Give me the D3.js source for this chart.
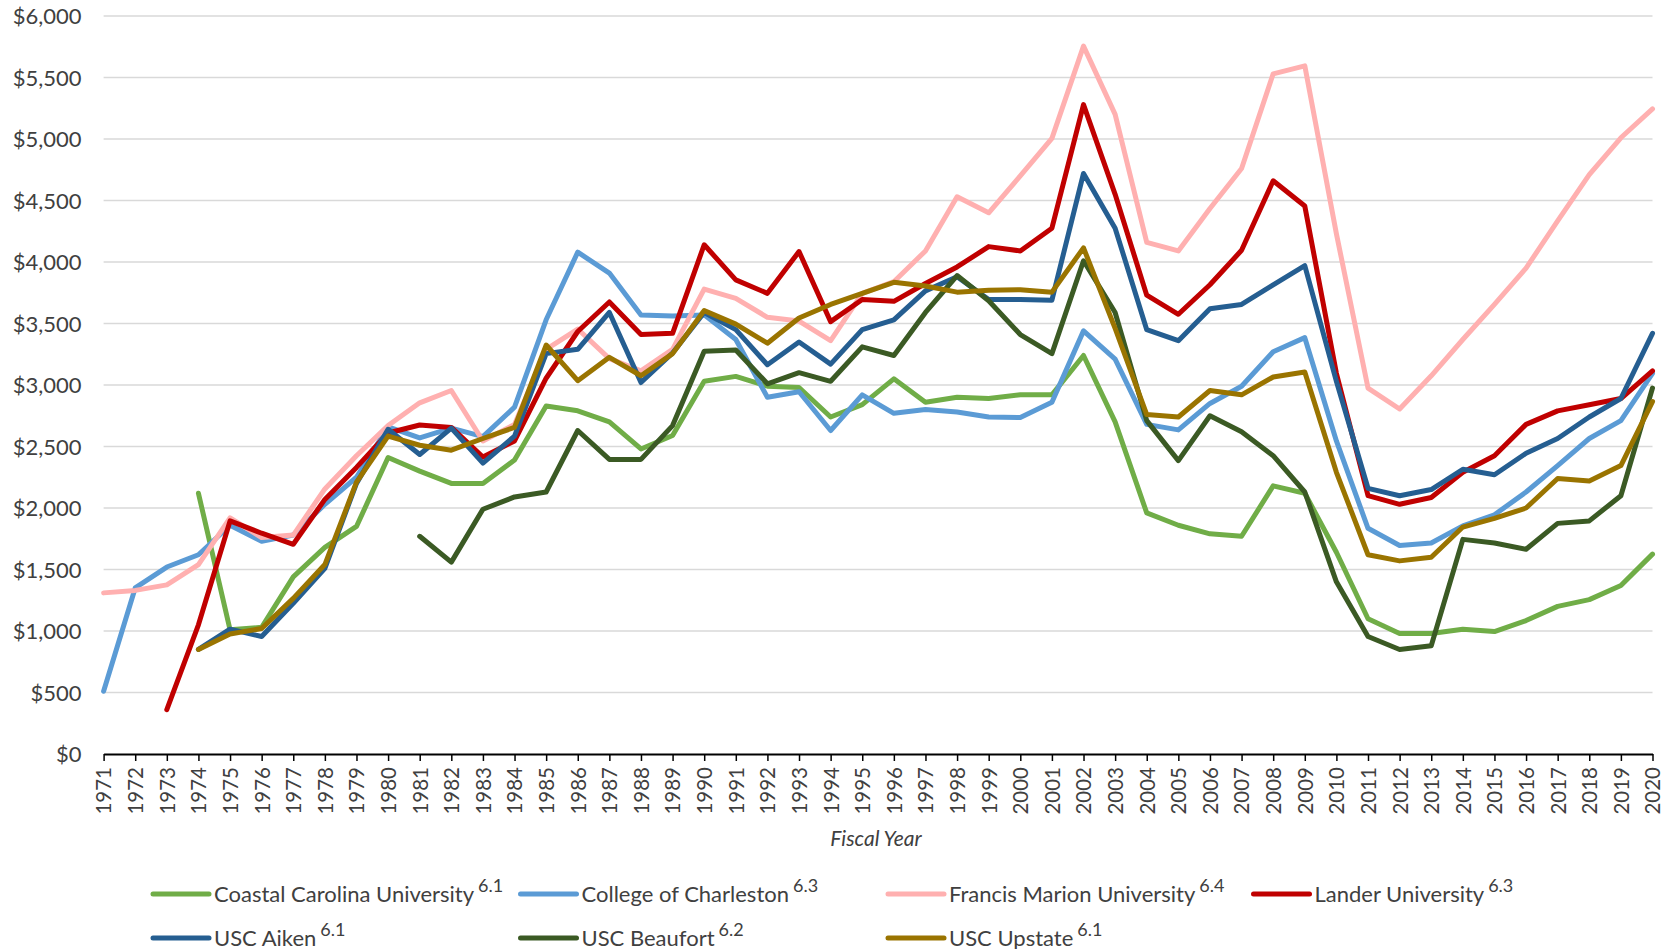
<!DOCTYPE html>
<html>
<head>
<meta charset="utf-8">
<script src="https://cdn.jsdelivr.net/npm/d3@7"></script>
<style>
  html, body { margin: 0; padding: 0; background: #fff; overflow: hidden; }
  svg { display: block; }
  .tick text { font-family: Lato, "Open Sans", sans-serif; fill: #404040; }
</style>
</head>
<body>
<div id="chart"></div>
<script>
const years = d3.range(1971, 2021);
const yTicks = [0, 500, 1000, 1500, 2000, 2500, 3000, 3500, 4000, 4500, 5000, 5500, 6000];

const schools = ["Coastal Carolina University", "College of Charleston", "Francis Marion University",
  "Lander University", "USC Aiken", "USC Beaufort", "USC Upstate"];
const footnotes = ["6.1", "6.3", "6.4", "6.3", "6.1", "6.2", "6.1"];
const colors = ["#70ad47", "#5b9bd5", "#ffb0b0", "#c00000", "#255e91", "#3b5a24", "#9a7400"];

const coastal = [null, null, null, 2120, 1010, 1030, 1440, 1680, 1850, 2410,
  2300, 2200, 2200, 2390, 2830, 2790, 2700, 2480, 2590, 3030,
  3070, 2990, 2980, 2740, 2840, 3050, 2860, 2900, 2890, 2920,
  2920, 3240, 2700, 1960, 1860, 1790, 1770, 2180, 2120, 1640,
  1100, 980, 980, 1015, 995, 1085, 1200, 1255, 1370, 1625];
const charleston = [510, 1350, 1520, 1620, 1860, 1730, 1780, 2030, 2250, 2660,
  2570, 2650, 2580, 2820, 3530, 4080, 3910, 3570, 3560, 3570,
  3370, 2900, 2945, 2630, 2920, 2770, 2800, 2780, 2740, 2735,
  2860, 3440, 3210, 2680, 2635, 2850, 2990, 3270, 3385, 2545,
  1835, 1695, 1715, 1855, 1945, 2130, 2345, 2565, 2710, 3095];
const francisMarion = [1310, 1330, 1375, 1540, 1920, 1760, 1780, 2155, 2425, 2670,
  2855, 2955, 2545, 2680, 3290, 3455, 3215, 3115, 3290, 3780,
  3705, 3550, 3520, 3360, 3745, 3840, 4090, 4530, 4400, 4700,
  5005, 5755, 5200, 4160, 4090, 4435, 4760, 5530, 5595, 4230,
  2975, 2805, 3075, 3370, 3655, 3950, 4335, 4710, 5010, 5245];
const lander = [null, null, 360, 1050, 1895, 1795, 1705, 2070, 2330, 2610,
  2675, 2655, 2415, 2545, 3055, 3435, 3675, 3410, 3420, 4140,
  3855, 3745, 4085, 3515, 3695, 3680, 3825, 3960, 4125, 4090,
  4275, 5280, 4550, 3730, 3575, 3815, 4095, 4660, 4455, 3095,
  2100, 2030, 2085, 2290, 2425, 2680, 2790, 2840, 2890, 3115];
const aiken = [null, null, null, 850, 1015, 955, 1225, 1510, 2200, 2640,
  2435, 2650, 2365, 2585, 3255, 3290, 3590, 3020, 3260, 3590,
  3450, 3165, 3350, 3170, 3450, 3530, 3765, 3880, 3695, 3695,
  3690, 4720, 4275, 3450, 3360, 3620, 3655, 3815, 3970, 3030,
  2160, 2100, 2150, 2315, 2270, 2445, 2565, 2740, 2890, 3420];
const beaufort = [null, null, null, null, null, null, null, null, null, null,
  1770, 1560, 1990, 2090, 2130, 2630, 2395, 2395, 2670, 3275,
  3285, 3010, 3100, 3030, 3310, 3240, 3590, 3890, 3685, 3410,
  3255, 4010, 3590, 2710, 2385, 2750, 2620, 2425, 2130, 1400,
  955, 850, 880, 1745, 1715, 1665, 1875, 1895, 2100, 2975];
const upstate = [null, null, null, 850, 975, 1020, 1265, 1540, 2210, 2585,
  2510, 2470, 2565, 2655, 3325, 3035, 3225, 3075, 3255, 3605,
  3495, 3340, 3545, 3655, 3745, 3835, 3805, 3755, 3770, 3775,
  3755, 4115, 3460, 2760, 2740, 2955, 2920, 3065, 3105, 2290,
  1620, 1570, 1600, 1845, 1915, 2000, 2240, 2220, 2345, 2865];

const seriesValues = [coastal, charleston, francisMarion, lander, aiken, beaufort, upstate];

const width = 1675;
const height = 949;
const margin = { top: 16, left: 103.6, right: 22.5, bottom: 196 };

const svg = d3.select("#chart").append("svg")
  .attr("width", width)
  .attr("height", height);

const x = d3.scalePoint()
  .domain(years)
  .range([margin.left, width - margin.right]);
const y = d3.scaleLinear()
  .domain([0, 6000])
  .range([height - margin.bottom + 1, margin.top]);

// horizontal grid
svg.append("g")
  .attr("class", "grid")
  .selectAll("line")
  .data(yTicks.filter(d => d > 0))
  .join("line")
  .attr("x1", margin.left)
  .attr("x2", width - margin.right)
  .attr("y1", d => y(d))
  .attr("y2", d => y(d))
  .attr("stroke", "#d9d9d9")
  .attr("stroke-width", 1.5);

// y axis (labels only)
const yAxis = svg.append("g")
  .attr("transform", "translate(" + (margin.left - 22) + ",0)")
  .call(d3.axisLeft(y).tickValues(yTicks).tickSize(0).tickPadding(0)
    .tickFormat(d => "$" + d3.format(",")(d)));
yAxis.select(".domain").remove();
yAxis.selectAll("text").attr("font-size", 22).attr("dy", "0.36em");

// x axis
const xAxis = svg.append("g")
  .attr("transform", "translate(0," + y(0) + ")")
  .call(d3.axisBottom(x).tickSize(7).tickSizeOuter(0));
xAxis.select(".domain").attr("stroke", "#000").attr("stroke-width", 2);
xAxis.selectAll(".tick line").attr("stroke", "#000").attr("stroke-width", 1.5);
xAxis.selectAll("text")
  .attr("font-size", 20.5)
  .attr("text-anchor", "end")
  .attr("transform", "rotate(-90)")
  .attr("x", -13)
  .attr("y", 0)
  .attr("dy", "0.36em");

svg.append("text")
  .attr("x", 876)
  .attr("y", 846)
  .attr("text-anchor", "middle")
  .attr("font-family", "Lato, 'Open Sans', sans-serif")
  .attr("font-style", "italic")
  .attr("font-size", 21)
  .attr("fill", "#404040")
  .text("Fiscal Year");

// lines
const line = d3.line()
  .defined(d => d.value != null)
  .x(d => x(d.year))
  .y(d => y(d.value));

svg.append("g")
  .attr("class", "series")
  .selectAll("path")
  .data(seriesValues.map((vals, i) => ({ i, points: vals.map((v, j) => ({ year: years[j], value: v })) })))
  .join("path")
  .attr("d", d => line(d.points))
  .attr("fill", "none")
  .attr("stroke", d => colors[d.i])
  .attr("stroke-width", 5)
  .attr("stroke-linejoin", "round")
  .attr("stroke-linecap", "round");

// legend
const legendCols = [153, 520.5, 888, 1253.5];
const legendRows = [894, 938];
const legend = svg.append("g")
  .attr("class", "legend")
  .selectAll("g")
  .data(schools)
  .join("g")
  .attr("transform", (d, i) => "translate(" + legendCols[i % 4] + "," + legendRows[Math.floor(i / 4)] + ")");

legend.append("line")
  .attr("x1", 0)
  .attr("x2", 56)
  .attr("stroke", (d, i) => colors[i])
  .attr("stroke-width", 5)
  .attr("stroke-linecap", "round");

const legendText = legend.append("text")
  .attr("x", 61)
  .attr("y", 8)
  .attr("font-family", "Lato, 'Open Sans', sans-serif")
  .attr("font-size", 22)
  .attr("fill", "#404040");
legendText.append("tspan").text(d => d);
legendText.append("tspan")
  .attr("dx", 4)
  .attr("dy", -10)
  .attr("font-size", 18)
  .text((d, i) => footnotes[i]);
</script>
</body>
</html>
